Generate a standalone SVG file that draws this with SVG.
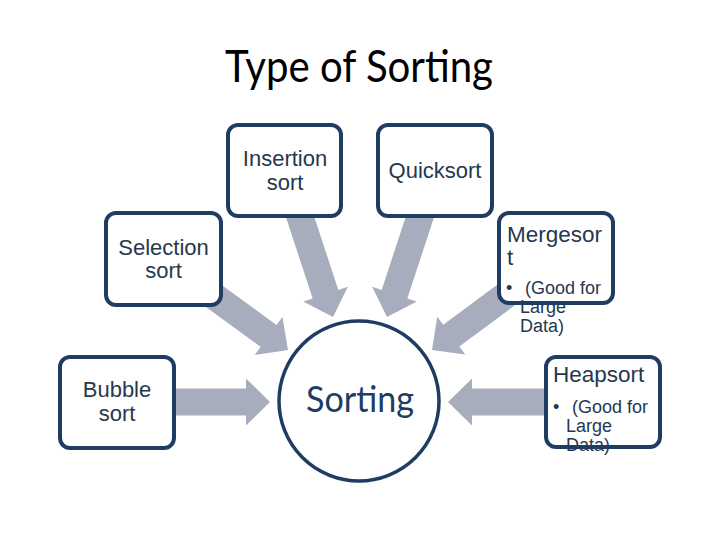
<svg xmlns="http://www.w3.org/2000/svg" width="720" height="540" viewBox="0 0 720 540">
<style>
.box{fill:#ffffff;stroke:#1f3d63;stroke-width:4}
.bd{fill:none;stroke:#1f3d63;stroke-width:4}
.arrow{fill:#a7adbc}
.lbl{font-family:"Liberation Sans",Arial,sans-serif;font-size:22px;fill:#26384f;text-anchor:middle}
.lft{font-family:"Liberation Sans",Arial,sans-serif;font-size:22.5px;fill:#26384f}
.sm{font-family:"Liberation Sans",Arial,sans-serif;font-size:18px;fill:#26384f}
.title{font-family:Lato,"Open Sans",sans-serif;font-size:44px;fill:#000000;text-anchor:middle}
.center{font-family:Lato,"Open Sans",sans-serif;font-size:37px;fill:#1f3d63;text-anchor:middle}
</style>
<defs>
<path id="arr" d="M-155,-13.5 H-24 V-23.5 L0,0 L-24,23.5 V13.5 H-155 Z"/>
</defs>
<rect width="720" height="540" fill="#ffffff"/>
<text class="title" x="359" y="82" textLength="268" lengthAdjust="spacingAndGlyphs">Type of Sorting</text>
<g id="connectors" class="arrow">
<use href="#arr" transform="translate(288,350) rotate(36.05)"/>
<use href="#arr" transform="translate(333,317) rotate(71.8)"/>
<use href="#arr" transform="translate(387,317) rotate(108.2)"/>
<use href="#arr" transform="translate(432,350) rotate(143.4)"/>
<use href="#arr" transform="translate(270,402)"/>
<use href="#arr" transform="translate(448,402) rotate(180)"/>
</g>
<g id="sorting">
<circle cx="359" cy="401" r="80" fill="#ffffff" stroke="#1f3d63" stroke-width="3.5"/>
<text class="center" x="360" y="412" textLength="108" lengthAdjust="spacingAndGlyphs">Sorting</text>
</g>
<g id="insertion">
<rect class="box" x="228" y="125" width="113" height="91" rx="10"/>
<text class="lbl" x="285" y="166">Insertion</text>
<text class="lbl" x="285" y="190">sort</text>
</g>
<g id="quicksort">
<rect class="box" x="378" y="125" width="114" height="91" rx="10"/>
<text class="lbl" x="435" y="178">Quicksort</text>
</g>
<g id="selection">
<rect class="box" x="106" y="213" width="115" height="92" rx="10"/>
<text class="lbl" x="163.5" y="255">Selection</text>
<text class="lbl" x="163.5" y="278">sort</text>
</g>
<g id="mergesort">
<rect x="499" y="213" width="114" height="90" rx="10" fill="#ffffff"/>
<text class="lft" x="507" y="242">Mergesor</text>
<text class="lft" x="507" y="265">t</text>
<text class="sm" x="506" y="294">•</text>
<text class="sm" x="525" y="294">(Good for</text>
<text class="sm" x="520" y="313">Large</text>
<text class="sm" x="520" y="332">Data)</text>
<rect class="bd" x="499" y="213" width="114" height="90" rx="10"/>
</g>
<g id="heapsort">
<rect x="546" y="357" width="114" height="90" rx="10" fill="#ffffff"/>
<text class="lft" x="553" y="382">Heapsort</text>
<text class="sm" x="553" y="413">•</text>
<text class="sm" x="572" y="413">(Good for</text>
<text class="sm" x="566" y="432">Large</text>
<text class="sm" x="566" y="451">Data)</text>
<rect class="bd" x="546" y="357" width="114" height="90" rx="10"/>
</g>
<g id="bubble">
<rect class="box" x="60" y="357" width="114" height="91" rx="10"/>
<text class="lbl" x="117" y="397">Bubble</text>
<text class="lbl" x="117" y="421">sort</text>
</g>
</svg>
